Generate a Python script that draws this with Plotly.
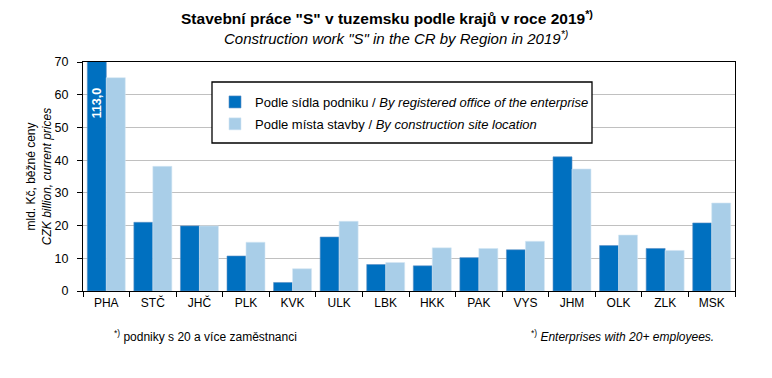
import plotly.graph_objects as go

regions = ["PHA", "STČ", "JHČ", "PLK", "KVK", "ULK", "LBK", "HKK", "PAK", "VYS", "JHM", "OLK", "ZLK", "MSK"]
by_office = [113.0, 21.0, 19.9, 10.7, 2.6, 16.5, 8.1, 7.7, 10.2, 12.6, 41.0, 13.9, 13.0, 20.8]
by_site = [65.2, 38.1, 19.9, 14.9, 6.8, 21.3, 8.7, 13.2, 13.0, 15.2, 37.3, 17.1, 12.4, 26.9]
y_ticks = [0, 10, 20, 30, 40, 50, 60, 70]

name_office = "Podle sídla podniku / <i>By registered office of the enterprise</i>"
name_site = "Podle místa stavby / <i>By construction site location</i>"

DARK = "#0070C0"
LIGHT = "#A9CEE8"
FONT = "Liberation Sans, Arial, sans-serif"

# page body has an 8px margin; figure size chosen to fill the window exactly
OFF = 8
W, H = 772 - 2 * OFF, 378 - 2 * OFF
# plot area in screen pixels
L, R, T, B = 83, 735, 62, 291
PW, PH = R - L, B - T


def px(xs):
    return (xs - L) / PW


def py(ys):
    return (B - ys) / PH


fig = go.Figure()
fig.add_trace(go.Bar(x=regions, y=by_office, name=name_office, legendgroup="a",
                     marker=dict(color=DARK, line=dict(color="#5b8fc4", width=0.6))))
fig.add_trace(go.Bar(x=regions, y=by_site, name=name_site, legendgroup="b",
                     marker=dict(color=LIGHT, line=dict(color="#d3e6f4", width=0.6))))

# value label for clipped PHA bar
fig.add_annotation(x=regions[0], y=57.6, xref="x", yref="y", xshift=-9.5,
                   text="<b>" + f"{by_office[0]:.1f}".replace(".", ",") + "</b>",
                   textangle=-90, showarrow=False,
                   font=dict(family=FONT, size=12.5, color="white"))

# legend box
fig.add_shape(type="rect", xref="paper", yref="paper",
              x0=px(212), x1=px(592), y0=py(143), y1=py(82),
              line=dict(color="black", width=1.3), fillcolor="white", layer="above")

# English subtitle (second title line)
fig.add_annotation(x=px(396), y=py(37), xref="paper", yref="paper", showarrow=False,
                   text="<i>Construction work \"S\" in the CR by Region in 2019<sup>*)</sup></i>",
                   font=dict(family=FONT, size=15, color="black"),
                   xanchor="center", yanchor="middle")

# footnotes
fig.add_annotation(x=px(112), y=py(336), xref="paper", yref="paper", showarrow=False,
                   text="<sup>*)</sup> podniky s 20 a více zaměstnanci",
                   font=dict(family=FONT, size=12, color="black"),
                   xanchor="left", yanchor="middle")
fig.add_annotation(x=px(716), y=py(336), xref="paper", yref="paper", showarrow=False,
                   text="<sup>*)</sup> <i>Enterprises with 20+ employees.</i>",
                   font=dict(family=FONT, size=12, color="black"),
                   xanchor="right", yanchor="middle")

fig.update_layout(
    width=W, height=H,
    margin=dict(l=L - OFF, r=W + OFF - R, t=T - OFF, b=H + OFF - B, autoexpand=False),
    paper_bgcolor="white", plot_bgcolor="white",
    font=dict(family=FONT, size=12, color="black"),
    barmode="group", bargap=0.185, bargroupgap=0,
    title=dict(
        text="<b>Stavební práce \"S\" v tuzemsku podle krajů v roce 2019<sup>*)</sup></b>",
        x=(387 - OFF) / W, xref="container", xanchor="center",
        y=1 - (19 - OFF) / H, yref="container", yanchor="middle",
        font=dict(family=FONT, size=15.5, color="black"), automargin=False),
    legend=dict(x=px(215), y=py(87), xanchor="left", yanchor="top",
                bgcolor="rgba(0,0,0,0)", borderwidth=0, traceorder="grouped",
                tracegroupgap=2, font=dict(family=FONT, size=13)),
    xaxis=dict(type="category", tickson="boundaries", ticks="outside", ticklen=5,
               tickcolor="black", showline=True, linecolor="black", linewidth=1.3,
               mirror=True, showgrid=False, tickfont=dict(size=12), automargin=False),
    yaxis=dict(range=[0, 70], tickvals=y_ticks, ticks="outside", ticklen=5,
               tickcolor="black", showline=True, linecolor="black", linewidth=1.3,
               mirror=True, showgrid=True, gridcolor="#c0c0c0", gridwidth=1,
               zeroline=False, tickfont=dict(size=12.5), automargin=False,
               ticklabelstandoff=6,
               title=dict(text="mld. Kč, běžné ceny<br><i>CZK billion, current prices</i>",
                          font=dict(size=12), standoff=0)),
)

fig.write_html("out.html")
